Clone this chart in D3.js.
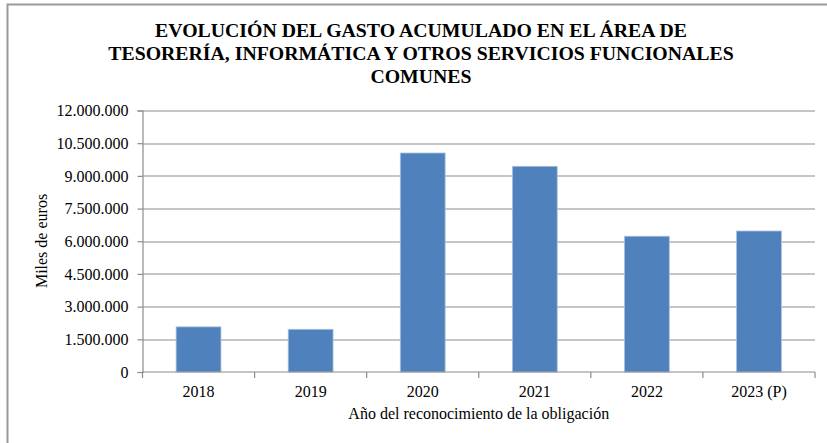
<!DOCTYPE html>
<html>
<head>
<meta charset="utf-8">
<script src="https://cdn.jsdelivr.net/npm/d3@7"></script>
<style>
  html, body { margin: 0; padding: 0; background: #ffffff; }
  svg { display: block; }
  svg text { font-family: "Liberation Serif", Tinos, "Times New Roman", Times, serif; }
</style>
</head>
<body>
<div id="chart"></div>
<script>
const categories = ["2018", "2019", "2020", "2021", "2022", "2023 (P)"];
const values = [2070000, 1960000, 10050000, 9440000, 6230000, 6470000];
const yTicks = [0, 1500000, 3000000, 4500000, 6000000, 7500000, 9000000, 10500000, 12000000];
const titleLines = [
  "EVOLUCIÓN DEL GASTO ACUMULADO EN EL ÁREA DE",
  "TESORERÍA, INFORMÁTICA Y OTROS SERVICIOS FUNCIONALES",
  "COMUNES"
];
const yTitle = "Miles de euros";
const xTitle = "Año del reconocimiento de la obligación";

const W = 827, H = 443;
const margin = { top: 110.5, right: 12, bottom: 71, left: 142.5 };
const innerW = W - margin.left - margin.right;
const innerH = H - margin.top - margin.bottom;

const svg = d3.select("#chart").append("svg")
  .attr("width", W).attr("height", H);

// outer frame
svg.append("rect")
  .attr("x", 7.5).attr("y", 4.5)
  .attr("width", 840).attr("height", 460)
  .attr("fill", "#ffffff")
  .attr("stroke", "#9a9a9a").attr("stroke-width", 2);

// title
const title = svg.append("text")
  .attr("text-anchor", "middle")
  .style("font-weight", "bold")
  .style("font-size", "19.8px")
  .attr("fill", "#000");
titleLines.forEach((t, i) => {
  title.append("tspan").attr("x", 421).attr("y", 37 + i * 23).text(t);
});

const g = svg.append("g").attr("transform", `translate(${margin.left},${margin.top})`);

const x = d3.scaleBand().domain(categories).range([0, innerW]).paddingInner(0.6).paddingOuter(0.3);
const y = d3.scaleLinear().domain([0, 12000000]).range([innerH, 0]);

const fmt = v => d3.format(",")(v).replace(/,/g, ".");

// gridlines
g.append("g").selectAll("line").data(yTicks.filter(d => d > 0)).join("line")
  .attr("x1", 0).attr("x2", innerW)
  .attr("y1", d => Math.round(y(d)) + 0.5).attr("y2", d => Math.round(y(d)) + 0.5)
  .attr("stroke", "#8c8c8c").attr("stroke-width", 1.2);

// bars
g.append("g").selectAll("rect").data(values).join("rect")
  .attr("x", (d, i) => x(categories[i]))
  .attr("y", d => y(d))
  .attr("width", x.bandwidth())
  .attr("height", d => innerH - y(d))
  .attr("fill", "#4f81bd")
  .attr("stroke", "#a9c1df").attr("stroke-width", 0.8);

// y axis
const yAxis = d3.axisLeft(y).tickValues(yTicks).tickFormat(fmt).tickSize(5).tickPadding(9);
const yg = g.append("g").call(yAxis);
yg.attr("font-family", null).attr("font-size", null);
yg.select(".domain").attr("stroke", "#8c8c8c").attr("stroke-width", 1.2);
yg.selectAll(".tick line").attr("stroke", "#8c8c8c").attr("stroke-width", 1.2);
yg.selectAll(".tick text").style("font-size", "16px").attr("fill", "#000");

// x axis
const xg = g.append("g").attr("transform", `translate(0,${innerH})`);
xg.append("line").attr("x1", 0).attr("x2", innerW).attr("y1", 0).attr("y2", 0)
  .attr("stroke", "#8c8c8c").attr("stroke-width", 1.2);
const boundaries = categories.map((c, i) => i * x.step()).concat([innerW]);
xg.selectAll("line.tk").data(boundaries).join("line").attr("class", "tk")
  .attr("x1", d => d).attr("x2", d => d).attr("y1", 0).attr("y2", 6)
  .attr("stroke", "#8c8c8c").attr("stroke-width", 1.2);
xg.selectAll("text.lbl").data(categories).join("text").attr("class", "lbl")
  .attr("x", d => x(d) + x.bandwidth() / 2)
  .attr("y", 25)
  .attr("text-anchor", "middle")
  .style("font-size", "16px").attr("fill", "#000")
  .text(d => d);

// axis titles
g.append("text")
  .attr("x", innerW / 2).attr("y", innerH + 47)
  .attr("text-anchor", "middle")
  .style("font-size", "16px").attr("fill", "#000")
  .text(xTitle);

svg.append("text")
  .attr("transform", `translate(47,241) rotate(-90)`)
  .attr("text-anchor", "middle")
  .style("font-size", "16px").attr("fill", "#000")
  .text(yTitle);
</script>
</body>
</html>
